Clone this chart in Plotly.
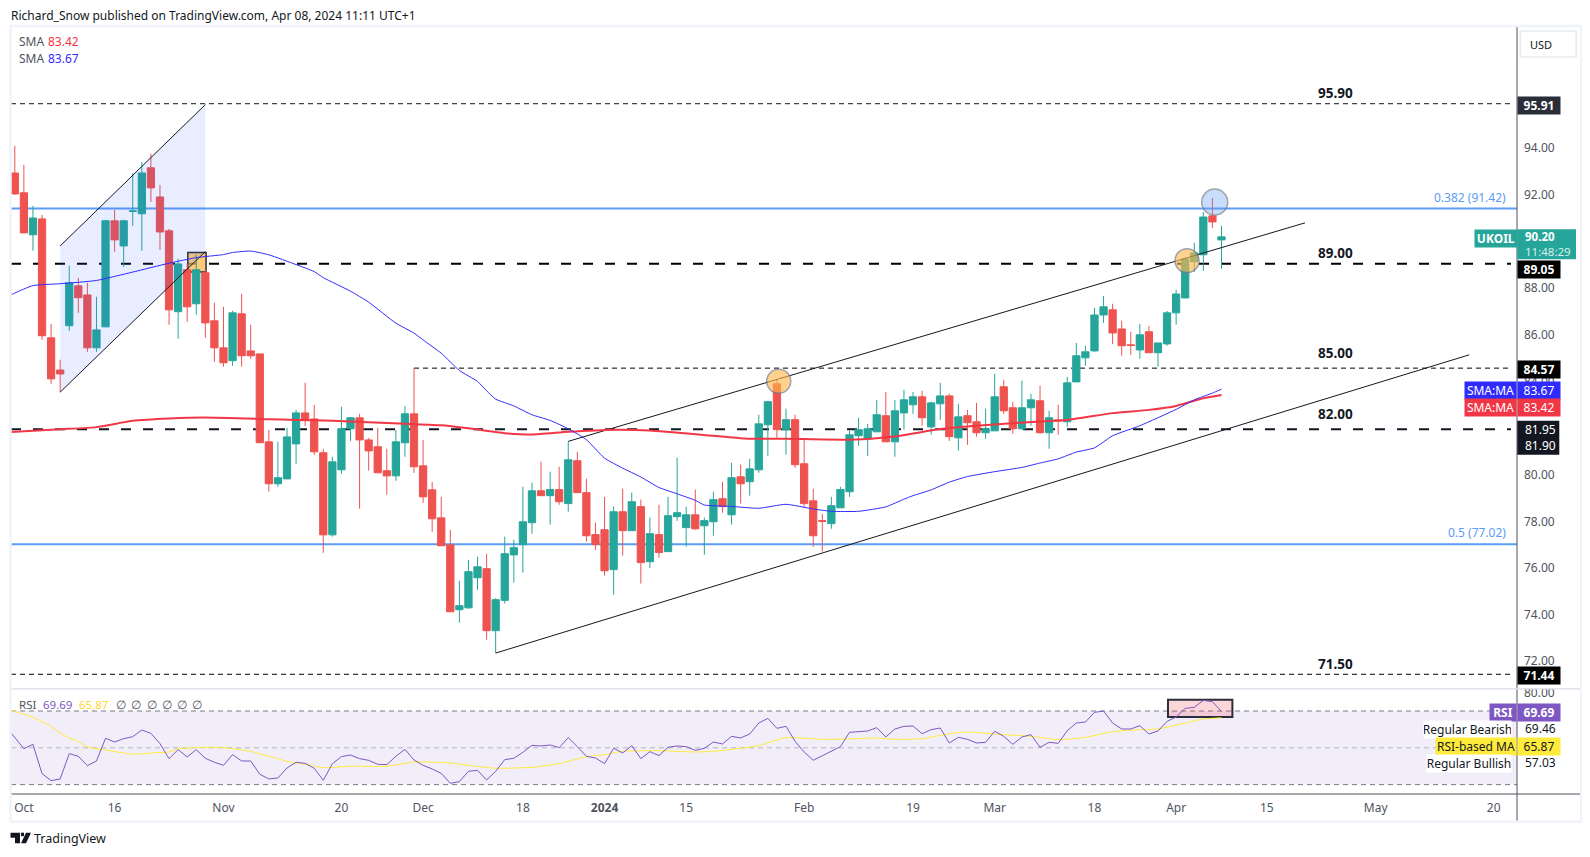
import plotly.graph_objects as go

# daily UKOIL candles (bar 0 is Sep 29 2023, bar 133 is Apr 8 2024)
opens = [
    92.94, 92.09, 90.29, 90.97, 85.87, 84.49, 86.39, 88.10, 87.71, 85.44,
    86.34, 90.89, 89.81, 91.29, 91.19, 93.16, 91.91, 90.46, 86.99, 88.79,
    87.33, 88.66, 86.60, 85.44, 84.89, 86.90, 85.31, 85.18, 81.41, 79.61,
    79.82, 81.32, 82.65, 82.39, 80.94, 77.42, 80.21, 81.97, 82.44, 81.49,
    81.20, 80.17, 79.95, 81.37, 82.61, 80.38, 79.35, 78.15, 76.99, 74.21,
    74.29, 75.58, 75.97, 73.31, 74.61, 76.56, 77.00, 77.94, 79.31, 79.10,
    79.36, 78.76, 80.60, 79.23, 77.43, 77.64, 75.93, 78.41, 77.60, 78.63,
    76.27, 77.43, 76.70, 78.20, 77.73, 78.28, 77.81, 77.98, 78.97, 78.28,
    79.91, 79.70, 80.21, 82.14, 83.90, 81.93, 82.36, 80.47, 78.88, 78.03,
    77.90, 78.58, 79.27, 81.67, 81.54, 81.84, 82.53, 81.41, 82.65, 83.00,
    83.34, 82.05, 83.04, 83.38, 81.58, 82.53, 82.27, 81.80, 81.88, 83.77,
    82.87, 81.97, 82.87, 83.17, 81.80, 82.35, 82.27, 83.98, 85.01, 85.31,
    86.85, 87.07, 86.25, 85.57, 85.35, 86.13, 85.23, 85.61, 86.94, 87.58,
    89.13, 89.43, 91.10, 90.07,
]
highs = [
    94.10, 93.29, 91.53, 91.14, 86.47, 84.93, 88.96, 88.44, 88.23, 87.63,
    90.93, 91.36, 90.93, 92.93, 93.41, 93.76, 92.43, 90.54, 89.26, 89.07,
    89.43, 88.80, 87.37, 87.20, 87.03, 87.76, 86.43, 85.19, 81.92, 81.41,
    82.01, 82.78, 83.94, 82.99, 81.11, 80.77, 82.91, 82.48, 82.61, 81.58,
    82.01, 81.11, 81.92, 82.95, 84.58, 81.49, 79.69, 79.05, 77.64, 75.45,
    76.35, 76.48, 76.61, 74.70, 77.34, 77.21, 79.48, 79.66, 80.56, 80.13,
    80.34, 81.43, 80.98, 79.83, 77.94, 79.05, 78.63, 79.40, 79.23, 78.93,
    78.16, 78.71, 79.05, 80.73, 78.63, 79.36, 78.16, 79.27, 79.70, 80.51,
    80.43, 80.68, 82.57, 83.17, 84.07, 82.83, 82.57, 81.50, 79.40, 78.33,
    79.05, 79.48, 81.88, 82.44, 82.18, 83.21, 83.55, 83.21, 83.64, 83.55,
    83.60, 83.13, 83.94, 83.47, 83.04, 82.78, 83.08, 82.83, 84.33, 84.07,
    83.13, 84.03, 83.47, 83.81, 82.74, 83.00, 84.20, 85.65, 85.53, 87.15,
    87.67, 87.33, 86.60, 86.13, 86.47, 86.38, 85.65, 87.02, 87.93, 89.25,
    89.94, 91.27, 91.87, 90.67,
]
lows = [
    92.00, 90.37, 89.60, 85.79, 83.90, 83.54, 86.17, 86.94, 85.27, 85.27,
    86.34, 89.56, 88.91, 90.67, 89.60, 91.70, 89.64, 86.43, 85.83, 86.56,
    86.86, 85.87, 84.84, 84.63, 84.67, 84.63, 84.97, 81.37, 79.27, 79.48,
    79.82, 80.47, 82.09, 80.85, 76.65, 77.34, 80.04, 81.45, 78.54, 80.17,
    80.08, 79.14, 79.74, 80.77, 80.08, 78.79, 77.55, 76.95, 74.12, 73.65,
    74.25, 75.07, 72.92, 72.35, 74.48, 75.37, 75.80, 77.47, 79.10, 77.86,
    78.71, 78.41, 79.23, 77.13, 76.78, 75.67, 74.85, 76.53, 77.60, 75.33,
    76.00, 76.44, 76.70, 78.02, 76.91, 77.64, 76.57, 77.38, 78.37, 77.86,
    78.76, 79.10, 80.08, 80.81, 81.58, 80.86, 80.30, 78.63, 76.91, 76.70,
    77.68, 78.58, 79.05, 81.24, 80.81, 81.84, 81.41, 80.77, 81.93, 82.61,
    82.10, 81.71, 82.35, 81.45, 81.03, 81.28, 81.63, 81.54, 81.88, 82.61,
    81.75, 81.93, 82.10, 81.75, 81.11, 81.71, 82.05, 83.98, 84.67, 85.27,
    86.51, 85.61, 85.10, 85.14, 84.97, 85.23, 84.63, 85.53, 86.43, 87.58,
    88.70, 88.74, 90.58, 88.83,
]
closes = [
    92.04, 90.37, 91.01, 85.96, 84.11, 84.32, 88.23, 87.59, 85.44, 86.21,
    90.89, 90.07, 90.89, 91.31, 92.94, 92.30, 90.41, 87.07, 89.04, 87.20,
    88.79, 86.51, 85.44, 84.80, 86.94, 85.10, 85.10, 81.37, 79.61, 79.87,
    81.62, 82.65, 82.35, 80.98, 77.42, 80.55, 81.97, 82.44, 81.49, 81.02,
    80.08, 79.95, 81.41, 82.61, 80.34, 79.05, 78.11, 76.95, 74.12, 74.38,
    75.84, 76.05, 73.31, 74.64, 76.61, 76.87, 77.98, 79.31, 79.10, 79.36,
    78.84, 80.64, 79.23, 77.38, 77.00, 75.88, 78.41, 77.60, 78.84, 76.23,
    77.47, 76.66, 78.24, 78.37, 78.28, 77.68, 78.03, 78.93, 78.63, 79.87,
    79.61, 80.25, 82.18, 83.13, 81.93, 82.36, 80.43, 78.76, 77.38, 78.00,
    78.67, 79.36, 81.71, 81.93, 81.97, 82.57, 81.41, 82.74, 83.21, 83.34,
    82.44, 83.08, 83.38, 81.63, 82.48, 82.23, 81.80, 81.97, 83.34, 82.74,
    81.97, 82.87, 83.21, 81.80, 82.44, 82.31, 83.94, 85.10, 85.27, 86.85,
    87.20, 86.08, 85.53, 85.54, 86.00, 85.23, 85.65, 86.94, 87.75, 89.25,
    89.51, 91.05, 90.84, 90.20,
]

# moving averages, read at the bars where the curve bends
sma_fast_bars = [
    -1, 0, 2, 5, 9, 13, 17, 20, 23, 24, 26, 28, 31, 33, 34, 37, 39, 42, 44, 45,
    47, 49, 51, 52, 53, 55, 57, 59, 61, 63, 65, 67, 69, 71, 73, 75, 76, 79, 82,
    85, 88, 90, 93, 96, 98, 99, 101, 103, 105, 108, 111, 113, 115, 117, 119,
    121, 124, 128, 130, 132, 133,
]
sma_fast = [
    87.60, 87.79, 88.11, 88.19, 88.33, 88.69, 89.07, 89.31, 89.44, 89.53, 89.59,
    89.43, 89.01, 88.71, 88.45, 87.87, 87.40, 86.50, 86.07, 85.78, 85.21, 84.47,
    84.00, 83.60, 83.24, 82.95, 82.57, 82.33, 81.97, 81.50, 80.71, 80.28, 79.90,
    79.45, 79.18, 78.90, 78.70, 78.64, 78.56, 78.73, 78.53, 78.43, 78.43, 78.62,
    78.95, 79.10, 79.35, 79.68, 79.92, 80.13, 80.31, 80.50, 80.68, 80.97, 81.15,
    81.67, 82.10, 82.80, 83.21, 83.50, 83.67,
]
sma_slow_bars = [
    -1, 5, 9, 13, 17, 21, 28, 31, 35, 43, 47, 50, 54, 57, 61, 66, 70, 77, 81, 85,
    92, 97, 102, 106, 113, 116, 121, 125, 128, 131, 133,
]
sma_slow = [
    81.82, 81.95, 82.04, 82.31, 82.41, 82.45, 82.38, 82.35, 82.31, 82.18, 82.12,
    81.99, 81.78, 81.72, 81.84, 81.93, 81.90, 81.67, 81.54, 81.54, 81.50, 81.64,
    81.96, 82.10, 82.28, 82.35, 82.64, 82.78, 82.95, 83.28, 83.42,
]

# RSI pane
rsi_bars = list(range(-1, 134))
rsi = [
    61.67, 55.88, 49.54, 51.90, 35.97, 32.17, 33.07, 46.83, 45.38, 40.31, 42.85,
    55.15, 53.16, 54.97, 56.06, 59.68, 57.87, 52.26, 44.11, 49.00, 45.02, 49.00,
    44.30, 42.12, 40.49, 46.29, 42.85, 42.85, 35.61, 33.07, 33.62, 39.05, 42.12,
    41.58, 38.87, 32.35, 41.40, 45.20, 46.11, 44.11, 43.21, 41.04, 40.86, 45.38,
    49.18, 43.39, 40.49, 38.50, 36.15, 30.72, 31.63, 37.24, 37.78, 32.53, 37.24,
    43.57, 44.30, 47.55, 51.35, 50.99, 51.54, 50.09, 55.52, 50.63, 45.38, 44.48,
    41.40, 49.73, 47.19, 51.17, 44.11, 47.92, 45.74, 50.27, 50.99, 50.63, 48.64,
    49.73, 53.16, 52.08, 56.24, 55.34, 57.51, 63.48, 66.01, 60.58, 61.67, 53.53,
    47.73, 43.21, 45.74, 48.10, 50.63, 58.41, 58.96, 59.14, 60.95, 55.88, 60.22,
    61.67, 61.85, 57.69, 59.86, 60.77, 52.62, 55.70, 54.61, 52.62, 52.98, 58.96,
    56.24, 51.90, 55.88, 57.15, 50.27, 52.98, 52.44, 59.32, 63.48, 64.02, 69.27,
    70.00, 63.48, 60.22, 60.22, 62.03, 57.51, 59.14, 64.39, 66.74, 71.44, 71.99,
    75.79, 75.06, 69.69,
]
rsi_ma_bars = [
    -1, 0, 2, 4, 5, 6, 7, 8, 10, 12, 13, 15, 17, 18, 20, 22, 24, 26, 28, 30, 32,
    34, 37, 41, 44, 48, 50, 53, 57, 60, 63, 65, 67, 71, 75, 77, 82, 85, 89, 92,
    95, 97, 100, 103, 105, 108, 112, 115, 118, 121, 124, 126, 129, 131, 133,
]
rsi_ma = [
    70.50, 69.80, 66.56, 61.67, 58.05, 55.34, 53.53, 50.45, 48.82, 47.19, 46.47,
    47.19, 47.73, 49.36, 50.09, 50.27, 49.54, 48.10, 45.38, 42.67, 41.04, 39.23,
    39.95, 39.95, 42.30, 41.76, 40.49, 38.87, 39.41, 41.40, 45.20, 46.29, 48.10,
    48.46, 47.73, 48.10, 51.17, 55.52, 54.61, 54.79, 55.34, 54.61, 54.97, 57.69,
    58.59, 57.51, 56.24, 54.43, 55.70, 58.77, 59.86, 60.22, 63.48, 65.65, 66.30,
]

# time axis
tick_bars = [1, 11, 23, 36, 45, 56, 65, 74, 87, 99, 108, 119, 128, 138, 150, 163]
tick_labels = ["Oct", "16", "Nov", "20", "Dec", "18", "<b>2024</b>", "15", "Feb",
               "19", "Mar", "18", "Apr", "15", "May", "20"]
# 82 and 90 sit fully behind the price tags in the original
price_ticks = [72, 74, 76, 78, 80, 84, 86, 88, 92, 94]

# drawings on the price pane
upper_trend_bars = [61, 142.2]
upper_trend = [81.43, 90.80]
lower_trend_bars = [53, 160.3]
lower_trend = [72.35, 85.14]
channel_bars = [5, 21, 21, 5, 5]
channel = [89.81, 95.87, 89.57, 83.54, 89.81]
circle_bars = [84.2, 129.2, 132.25]
circle_prices = [84.01, 89.18, 91.69]
circle_sizes = [24, 24, 26]
circle_fills = ["rgba(255,183,77,0.9)", "rgba(255,183,77,0.9)", "rgba(100,160,245,0.5)"]

FONT = "Noto Sans"
GREY = "#50535e"
INK = "#131722"

# page pixels of the pane corners; the browser body adds an 8px margin
LEFT, RIGHT, TOP, BOTTOM, SPLIT = 10.5, 1516.7, 27.0, 794.3, 689.0
BAR_MIN, BAR_MAX = -0.42, 165.57


def xp(px):
    return (px - LEFT) / (RIGHT - LEFT)


def yp(py):
    return (BOTTOM - py) / (BOTTOM - TOP)


annotations = []
shapes = []


def label(txt, x0, x1, y0, y1, bg, color="white", size=12, bold=True):
    annotations.append(dict(
        xref="paper", yref="paper", x=xp(x0), y=yp(y0), xanchor="left", yanchor="top",
        width=x1 - x0, height=y1 - y0, align="center", valign="middle",
        text=f"<b>{txt}</b>" if bold else txt, showarrow=False, bgcolor=bg, borderpad=0,
        font=dict(family=FONT, size=size, color=color),
    ))


def note(txt, px, py, color=GREY, size=12, anchor="left"):
    annotations.append(dict(
        xref="paper", yref="paper", x=xp(px), y=yp(py), xanchor=anchor, yanchor="middle",
        text=txt, showarrow=False, borderpad=0, font=dict(family=FONT, size=size, color=color),
    ))


def page_rect(x0, y0, x1, y1, **kwargs):
    shapes.append(dict(type="rect", xref="paper", yref="paper", x0=xp(x0), x1=xp(x1),
                       y0=yp(y0), y1=yp(y1), **kwargs))


def page_line(x0, y0, x1, y1, color, width):
    shapes.append(dict(type="line", xref="paper", yref="paper", x0=xp(x0), x1=xp(x1),
                       y0=yp(y0), y1=yp(y1), line=dict(color=color, width=width)))


def page_path(points, color):
    body = " L ".join(f"{xp(a):.5f},{yp(b):.5f}" for a, b in points)
    shapes.append(dict(type="path", xref="paper", yref="paper", path=f"M {body} Z",
                       fillcolor=color, line=dict(width=0)))


def level(price, color, width, dash, start=BAR_MIN, end=164.9):
    shapes.append(dict(type="line", xref="x", yref="y", x0=start, x1=end, y0=price, y1=price,
                       layer="below", line=dict(color=color, width=width, dash=dash)))


fig = go.Figure()

# horizontal levels
level(95.91, "#131722", 1, "5px,4px")
level(89.05, "#000000", 2, "10px,12px")
level(84.57, "#000000", 1, "5px,4px", start=44)
level(81.95, "#131722", 2, "10px,12px")
level(71.44, "#000000", 1, "5px,4px")
level(91.42, "#5b9cf6", 2, "solid", end=BAR_MAX)
level(77.02, "#5b9cf6", 2, "solid", end=BAR_MAX)

# orange box on the flag
shapes.append(dict(type="rect", xref="x", yref="y", x0=19.07, x1=21.08, y0=88.69, y1=89.53,
                   layer="below", fillcolor="rgba(255,183,77,0.75)",
                   line=dict(color="#2a2e39", width=1.5)))

fig.add_trace(go.Scatter(x=channel_bars, y=channel, mode="lines", fill="toself",
                         fillcolor="rgba(41,98,255,0.11)", line=dict(width=0), hoverinfo="skip"))
for bars, values in [(upper_trend_bars, upper_trend), (lower_trend_bars, lower_trend),
                     (channel_bars[:2], channel[:2]), (channel_bars[2:4], channel[2:4])]:
    fig.add_trace(go.Scatter(x=bars, y=values, mode="lines", hoverinfo="skip",
                             line=dict(color="#131722", width=1)))

fig.add_trace(go.Scatter(x=circle_bars, y=circle_prices, mode="markers", hoverinfo="skip",
                         marker=dict(size=circle_sizes, color=circle_fills,
                                     line=dict(color="#787b86", width=1.5))))

fig.add_trace(go.Scatter(x=sma_slow_bars, y=sma_slow, mode="lines", name="SMA",
                         line=dict(color="#f23645", width=2, shape="spline", smoothing=0.5)))
fig.add_trace(go.Scatter(x=sma_fast_bars, y=sma_fast, mode="lines", name="SMA",
                         line=dict(color="#2f2bff", width=1, shape="spline", smoothing=0.5)))

fig.add_trace(go.Candlestick(
    x=list(range(len(opens))), open=opens, high=highs, low=lows, close=closes, name="UKOIL",
    whiskerwidth=0,
    increasing=dict(line=dict(color="#26a69a", width=1), fillcolor="#26a69a"),
    decreasing=dict(line=dict(color="#ef5350", width=1), fillcolor="#ef5350"),
))

# RSI pane
shapes.append(dict(type="rect", xref="x", yref="y2", x0=BAR_MIN, x1=BAR_MAX, y0=30, y1=70,
                   layer="below", fillcolor="rgba(126,87,194,0.1)", line=dict(width=0)))
for value, color in [(70, "#787b86"), (50, "#b2b5be"), (30, "#787b86")]:
    shapes.append(dict(type="line", xref="x", yref="y2", x0=BAR_MIN, x1=BAR_MAX, y0=value, y1=value,
                       layer="below", line=dict(color=color, width=1, dash="5px,4px")))
shapes.append(dict(type="rect", xref="x", yref="y2", x0=127.1, x1=134.2, y0=66.74, y1=76.15,
                   layer="below", fillcolor="rgba(242,54,69,0.2)",
                   line=dict(color="#2a2e39", width=2)))
fig.add_trace(go.Scatter(x=rsi_ma_bars, y=rsi_ma, mode="lines", yaxis="y2", name="RSI MA",
                         line=dict(color="#ffeb3b", width=1, shape="spline", smoothing=0.5)))
fig.add_trace(go.Scatter(x=rsi_bars, y=rsi, mode="lines", yaxis="y2", name="RSI",
                         line=dict(color="#7e57c2", width=1)))

# frame around both panes and the axes
page_line(RIGHT, TOP, RIGHT, 822, GREY, 1)
page_line(LEFT, BOTTOM, 1581, BOTTOM, GREY, 1)
page_line(LEFT, SPLIT, 1581, SPLIT, "#e0e3eb", 1.5)
page_rect(10, 26, 1581, 822, line=dict(color="#f0f3fa", width=2.5))

# USD button
page_rect(1520, 31, 1576, 57, line=dict(color="#e8eaf0", width=1.5), fillcolor="white")
note("USD", 1529, 44.5, color=INK, size=11)

# header, pane legends
note("Richard_Snow published on TradingView.com, Apr 08, 2024 11:11 UTC+1", 9.5, 15, color=INK, size=12)
note("SMA", 18, 41.5, size=12)
note("83.42", 47, 41.5, color="#f23645", size=12)
note("SMA", 18, 58.5, size=12)
note("83.67", 47, 58.5, color="#2f2bff", size=12)
note("RSI", 18, 704.7, size=11.5)
note("69.69", 41.5, 704.7, color="#7e57c2", size=11.5)
note("65.87", 78, 704.7, color="#fdd835", size=11.5)
for slot_x in [114.6, 130, 146, 161, 176, 191]:
    note("∅", slot_x, 704.7, size=11.5)

# level captions on the chart
for caption, py in [("95.90", 93), ("89.00", 253.5), ("85.00", 353), ("82.00", 414), ("71.50", 664)]:
    note(f"<b>{caption}</b>", 1335, py, color=INK, size=13.5, anchor="center")
note("0.382 (91.42)", 1507, 197.7, color="#5b9cf6", size=12, anchor="right")
note("0.5 (77.02)", 1507, 533, color="#5b9cf6", size=12, anchor="right")

# price axis tags
label("95.91", 1517, 1559, 96, 113, "#2a2e39")
label("UKOIL", 1473.3, 1515, 229.3, 246, "#26a69a")
page_rect(1517, 229.3, 1575.7, 259.3, fillcolor="#26a69a", line=dict(width=0))
note("<b>90.20</b>", 1524, 237, color="white", size=11.5)
note("11:48:29", 1524, 251.5, color="#d6f0ed", size=11.5)
label("89.05", 1517, 1559, 260, 276.7, "#000000")
label("84.57", 1517, 1559, 360, 377.3, "#000000")
label("SMA:MA", 1464, 1515, 381, 398, "#2f2bff", bold=False)
label("83.67", 1517, 1559, 381, 398, "#2f2bff", bold=False)
label("SMA:MA", 1464, 1515, 398, 415, "#f23645", bold=False)
label("83.42", 1517, 1559, 398, 415, "#f23645", bold=False)
page_rect(1517, 421, 1559, 455, fillcolor="#131722", line=dict(width=0))
note("81.95", 1524, 429.5, color="white", size=12)
note("81.90", 1524, 446, color="white", size=12)
label("71.44", 1517, 1559, 666, 682.7, "#000000")
label("RSI", 1489, 1515, 703, 720, "#7e57c2")
label("69.69", 1517, 1559, 703, 720, "#7e57c2")
label("Regular Bearish", 1423, 1510, 720, 737, "white", color=INK, bold=False)
note("69.46", 1524, 728.5, color=INK, size=12)
label("RSI-based MA", 1435, 1515, 737, 754, "#ffeb3b", color=INK, bold=False)
label("65.87", 1517, 1559, 737, 754, "#ffeb3b", color=INK, bold=False)
label("Regular Bullish", 1426, 1510, 754, 771, "white", color=INK, bold=False)
note("57.03", 1524, 762.5, color=INK, size=12)

# TradingView mark in the footer
page_path([(10, 833), (19.5, 833), (19.5, 843.5), (14.5, 843.5), (14.5, 838), (10, 838)], INK)
page_path([(20.5, 833), (23.5, 833), (23.5, 836.5), (20.5, 836.5)], INK)
page_path([(25.5, 833), (30.5, 833), (25.5, 843.5), (20.5, 843.5)], INK)
note("TradingView", 33, 839, color=INK, size=12.5)

fig.update_layout(
    width=1574,
    height=841,
    margin=dict(l=LEFT - 8, r=1582 - RIGHT, t=TOP - 8, b=849 - BOTTOM, autoexpand=False),
    paper_bgcolor="white",
    plot_bgcolor="white",
    showlegend=False,
    boxgap=0.2,
    boxgroupgap=0,
    font=dict(family=FONT, color=GREY, size=12),
    shapes=shapes,
    annotations=annotations,
    xaxis=dict(
        range=[BAR_MIN, BAR_MAX], anchor="y2", showgrid=False, zeroline=False,
        showline=False, rangeslider=dict(visible=False), tickmode="array",
        tickvals=tick_bars, ticktext=tick_labels, ticks="", ticklabelstandoff=5,
        tickfont=dict(family=FONT, size=12, color=GREY),
    ),
    yaxis=dict(
        domain=[yp(SPLIT), 1], range=[70.82, 99.2], side="right", anchor="x", showgrid=False,
        zeroline=False, showline=False, tickmode="array", tickvals=price_ticks,
        tickformat=".2f", ticks="", ticklabelstandoff=6,
        tickfont=dict(family=FONT, size=12, color=GREY),
    ),
    yaxis2=dict(
        domain=[0, yp(SPLIT)], range=[24.9, 82.1], side="right", anchor="x", showgrid=False,
        zeroline=False, showline=False, tickmode="array", tickvals=[80],
        tickformat=".2f", ticks="", ticklabelstandoff=6,
        tickfont=dict(family=FONT, size=12, color=GREY),
    ),
)

fig.write_html("out.html")
